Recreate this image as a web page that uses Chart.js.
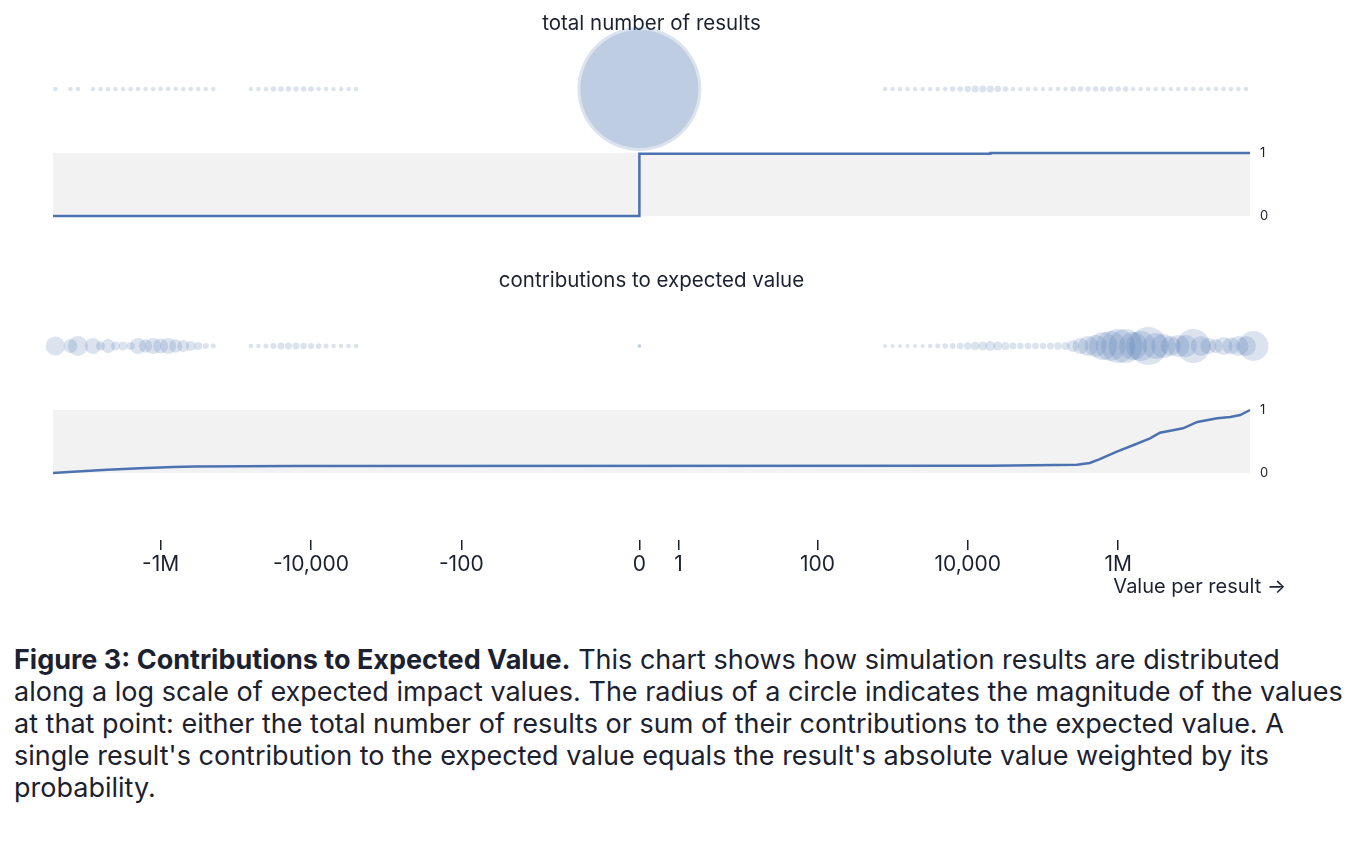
<!DOCTYPE html>
<html>
<head>
<meta charset="utf-8">
<script src="https://cdn.jsdelivr.net/npm/chart.js@4.4.1/dist/chart.umd.min.js"></script>
<style>
  body { margin: 0; background: #fff; font-family: Inter, sans-serif; color: #1b2130; }
  canvas { display: block; }
  .caption { margin: 44px 0 0 14px; width: 1330px; font-size: 27px; line-height: 32px; }
</style>
</head>
<body>
<canvas id="countChart" width="1362" height="257"></canvas>
<canvas id="contribChart" width="1362" height="343"></canvas>
<p class="caption"><b>Figure 3: Contributions to Expected Value.</b> This chart shows how simulation results are distributed along a log scale of expected impact values. The radius of a circle indicates the magnitude of the values at that point: either the total number of results or sum of their contributions to the expected value. A single result's contribution to the expected value equals the result's absolute value weighted by its probability.</p>
<script>
// bins are signed powers of ten: -6.9 means a value per result of about -10^6.9, 0 is the zero bin
const negBins = [-7.4, -7.2, -7.1,
  -6.9, -6.8, -6.7, -6.6, -6.5, -6.4, -6.3, -6.2, -6.1, -6.0, -5.9, -5.8, -5.7, -5.6, -5.5, -5.4, -5.3,
  -4.8, -4.7, -4.6, -4.5, -4.4, -4.3, -4.2, -4.1, -4.0, -3.9, -3.8, -3.7, -3.6, -3.5, -3.4, 0];
const posBins = [0,
  2.9, 3.0, 3.1, 3.2, 3.3, 3.4, 3.5, 3.6, 3.7, 3.8, 3.9, 4.0, 4.1, 4.2, 4.3, 4.4, 4.5, 4.6, 4.7, 4.8,
  4.9, 5.0, 5.1, 5.2, 5.3, 5.4, 5.5, 5.6, 5.7, 5.8, 5.9, 6.0, 6.1, 6.2, 6.3, 6.4, 6.5, 6.6, 6.7, 6.8,
  6.9, 7.0, 7.1, 7.2, 7.3, 7.4, 7.5, 7.6, 7.7, 7.8];

// number of results per bin
const negCounts = [2, 2, 2,
  2, 2, 2, 2, 2, 2, 2, 2, 2, 2, 2, 2, 2, 2, 2, 2, 2,
  2, 2, 2, 3, 3, 3, 3, 3, 3, 2, 2, 2, 2, 2, 2, 1360];
const posCounts = [1500,
  2, 2, 2, 2, 2, 2, 2, 2, 2, 3, 3, 4, 5, 5, 5, 4, 3, 2, 2, 2,
  2, 2, 2, 2, 2, 3, 3, 3, 3, 3, 3, 3, 3, 2, 2, 2, 2, 2, 2, 2,
  2, 2, 2, 2, 2, 2, 2, 2, 2, 2];

// contribution to expected value per bin
const negContrib = [23, 12, 25,
  16, 5, 12, 5, 5, 4, 16, 11, 16, 14, 16, 11, 9, 6, 4, 2.3, 1.6,
  1.3, 1.3, 1.6, 2.3, 3.1, 3.1, 3.1, 2.6, 2.3, 2, 1.6, 1.3, 1.3, 1.3, 1.3, 0.8];
const posContrib = [0.8,
  1, 1, 1, 1, 1, 1, 1.2, 1.6, 1.8, 2.1, 2.7, 3.4, 4.6, 5.1, 6.3, 5.1, 4, 3.1, 2.7, 2.7,
  2.7, 2.7, 3.1, 3.4, 4, 9, 16, 25, 30, 49, 56, 72, 72, 49, 56, 90, 42, 36, 25, 30,
  30, 72, 25, 16, 12, 20, 18, 25, 25, 56];

// cumulative share, read along the value axis
const countLineX = [-2.7e7, 0, 2e4, 5.67e7];
const countLineY = [0, 0.99, 1, 1];
const contribLineX = [-2.7e7, -1.46e7, -5.15e6, -1.88e6, -6.8e5, -3.46e5, -1.7e4, 1.97e4, 2.84e5, 4.2e5,
  5.7e5, 9.6e5, 1.58e6, 2.65e6, 3.6e6, 7.3e6, 1.13e7, 2.08e7, 3.1e7, 4.2e7, 5.67e7];
const contribLineY = [0, 0.02, 0.05, 0.075, 0.095, 0.105, 0.11, 0.115, 0.13, 0.16,
  0.22, 0.34, 0.44, 0.55, 0.64, 0.71, 0.81, 0.87, 0.89, 0.92, 1];

const tickValues = [-1e6, -1e4, -100, 0, 1, 100, 1e4, 1e6];
const tickLabels = ['-1M', '-10,000', '-100', '0', '1', '100', '10,000', '1M'];
const domain = [-2.7e7, 5.67e7];

const textColor = '#1b2130';
const blue = '#4c72b0';
const C = 0.43;
const symlog = v => Math.sign(v) * Math.log10(1 + Math.abs(v) / C);
const fromExp = e => Math.sign(e) * Math.pow(10, Math.abs(e));
const radius = n => 1.6 * Math.sqrt(n);
const contribRadius = n => 2 * Math.sqrt(n);

const ROW_Y = 2.016;   // bubble strip, above the 0..1 band
const TITLE_Y = 3.048;
const Y_MAX = 3.4286;

Chart.defaults.font.family = 'Inter, sans-serif';
Chart.defaults.color = textColor;

const panelPlugin = {
  id: 'panel',
  beforeDatasetsDraw(chart, args, opts) {
    const { ctx, chartArea: a, scales: { x, y } } = chart;
    const top = y.getPixelForValue(1);
    const bottom = y.getPixelForValue(0);
    ctx.save();
    ctx.fillStyle = '#f2f2f2';
    ctx.fillRect(a.left, top, a.right - a.left, bottom - top);
    ctx.fillStyle = textColor;
    ctx.font = '20.5px Inter, sans-serif';
    ctx.textAlign = 'center';
    ctx.textBaseline = 'middle';
    ctx.fillText(opts.title, (a.left + a.right) / 2, y.getPixelForValue(TITLE_Y));
    if (opts.axisTitle) {
      ctx.font = '20px Inter, sans-serif';
      ctx.textAlign = 'right';
      ctx.fillText(opts.axisTitle, a.right + 36, x.bottom - 13);
    }
    ctx.restore();
  }
};

function bubbles(bins, values, rFn) {
  return {
    type: 'bubble',
    data: bins.map((e, i) => ({ x: symlog(fromExp(e)), y: ROW_Y, r: rFn(values[i]) })),
    backgroundColor: 'rgba(76, 114, 176, 0.2)',
    borderWidth: 0,
    hoverRadius: 0,
    clip: false
  };
}

function makeChart(id, opts) {
  return new Chart(document.getElementById(id), {
    type: 'bubble',
    data: {
      datasets: [
        bubbles(negBins, opts.neg, opts.rFn),
        bubbles(posBins, opts.pos, opts.rFn),
        {
          type: 'line',
          data: opts.lineX.map((v, i) => ({ x: symlog(v), y: opts.lineY[i] })),
          borderColor: blue,
          borderWidth: 2.5,
          pointRadius: 0,
          stepped: opts.stepped,
          fill: false,
          clip: false
        }
      ]
    },
    options: {
      responsive: false,
      animation: false,
      events: [],
      layout: { autoPadding: false, padding: { left: 53, right: 0, top: 0, bottom: 0 } },
      plugins: {
        legend: { display: false },
        tooltip: { enabled: false },
        panel: { title: opts.title, axisTitle: opts.axisTitle }
      },
      scales: {
        x: {
          type: 'linear',
          display: opts.showAxis,
          min: symlog(domain[0]),
          max: symlog(domain[1]),
          afterBuildTicks: s => { s.ticks = tickValues.map(v => ({ value: symlog(v) })); },
          afterFit: s => {
            s.height = opts.showAxis ? 60 : 0;
            s.paddingLeft = 0;
            s.paddingRight = 0;
          },
          ticks: {
            callback: (v, i) => tickLabels[i],
            font: { size: 21 },
            color: textColor,
            padding: 2,
            autoSkip: false,
            maxRotation: 0
          },
          grid: { drawOnChartArea: false, drawTicks: true, tickLength: 10, color: textColor, lineWidth: 1.5 },
          border: { display: false }
        },
        y: {
          position: 'right',
          min: opts.yMin,
          max: Y_MAX,
          afterBuildTicks: s => { s.ticks = [{ value: 0 }, { value: 1 }]; },
          afterFit: s => {
            s.width = 112;
            s.paddingTop = 0;
            s.paddingBottom = 0;
          },
          ticks: { font: { size: 13 }, color: textColor, padding: 2 },
          grid: { display: false },
          border: { display: false }
        }
      }
    },
    plugins: [panelPlugin]
  });
}

makeChart('countChart', {
  title: 'total number of results',
  neg: negCounts, pos: posCounts, rFn: radius,
  lineX: countLineX, lineY: countLineY, stepped: 'before',
  showAxis: false, yMin: -0.6508
});

makeChart('contribChart', {
  title: 'contributions to expected value',
  axisTitle: 'Value per result \u2192',
  neg: negContrib, pos: posContrib, rFn: contribRadius,
  lineX: contribLineX, lineY: contribLineY, stepped: false,
  showAxis: true, yMin: -1.0635
});
</script>
</body>
</html>
